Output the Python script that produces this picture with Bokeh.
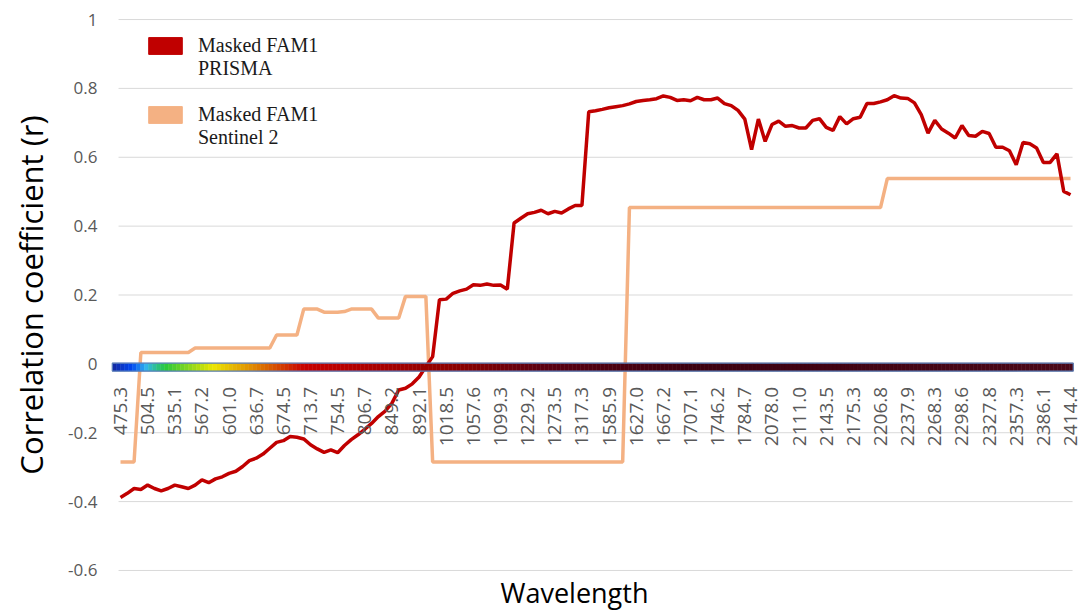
import numpy as np
from bokeh.plotting import figure
from bokeh.models import (Range1d, FixedTicker, NumeralTickFormatter, Legend,
                          LegendItem, Title, ColumnDataSource)
from bokeh.embed import file_html
from bokeh.resources import INLINE

# ---------------- data ----------------
tick_labels = ["475.3", "504.5", "535.1", "567.2", "601.0", "636.7", "674.5", "713.7",
               "754.5", "806.7", "849.2", "892.1", "1018.5", "1057.6", "1099.3", "1229.2",
               "1273.5", "1317.3", "1585.9", "1627.0", "1667.2", "1707.1", "1746.2", "1784.7",
               "2078.0", "2111.0", "2143.5", "2175.3", "2206.8", "2237.9", "2268.3", "2298.6",
               "2327.8", "2357.3", "2386.1", "2414.4"]
label_step = 4  # one wavelength label every 4 bands

prisma = [-0.388, -0.376, -0.362, -0.365, -0.352, -0.362, -0.369, -0.362, -0.352, -0.357,
          -0.362, -0.352, -0.337, -0.345, -0.334, -0.328, -0.318, -0.312, -0.298, -0.281,
          -0.274, -0.262, -0.245, -0.228, -0.223, -0.211, -0.213, -0.218, -0.235, -0.247,
          -0.257, -0.250, -0.258, -0.237, -0.220, -0.206, -0.190, -0.173, -0.153, -0.137,
          -0.114, -0.076, -0.071, -0.058, -0.038, -0.008, 0.021, 0.186, 0.188, 0.205,
          0.212, 0.217, 0.230, 0.228, 0.232, 0.228, 0.229, 0.217, 0.409, 0.423,
          0.436, 0.440, 0.446, 0.436, 0.443, 0.438, 0.450, 0.460, 0.460, 0.732,
          0.735, 0.739, 0.744, 0.747, 0.750, 0.755, 0.762, 0.765, 0.767, 0.770,
          0.778, 0.774, 0.765, 0.767, 0.764, 0.774, 0.767, 0.767, 0.772, 0.756,
          0.750, 0.736, 0.711, 0.622, 0.711, 0.646, 0.695, 0.705, 0.690, 0.692,
          0.685, 0.685, 0.707, 0.712, 0.687, 0.678, 0.718, 0.697, 0.712, 0.716,
          0.756, 0.756, 0.761, 0.767, 0.779, 0.772, 0.771, 0.758, 0.724, 0.670,
          0.707, 0.682, 0.670, 0.656, 0.692, 0.663, 0.661, 0.675, 0.669, 0.629,
          0.629, 0.619, 0.578, 0.643, 0.639, 0.627, 0.585, 0.585, 0.610, 0.501,
          0.491]

sentinel = ([-0.285] * 3 + [0.033] * 8 + [0.046] * 12 + [0.084] * 4 + [0.159] * 3 +
            [0.150] * 3 + [0.152] * 1 + [0.159] * 4 + [0.133] * 4 + [0.196] * 4 +
            [-0.285] * 29 + [0.454] * 38 + [0.538] * 28)

series_names = ["Masked FAM1\nPRISMA", "Masked FAM1\nSentinel 2"]
series_colors = ["#c00000", "#f4b183"]

y_ticks = [-0.6, -0.4, -0.2, 0.0, 0.2, 0.4, 0.6, 0.8, 1.0]

# spectrum colour stops for the bar drawn along y = 0 (fraction along bar, colour)
spectrum_stops = [(0.00, "#1428a0"), (0.02, "#0046f0"), (0.035, "#32b4f0"),
                  (0.055, "#28c83c"), (0.105, "#ebe600"), (0.145, "#e08c00"),
                  (0.20, "#c80000"), (0.30, "#a00000"), (0.36, "#8b0000"),
                  (0.45, "#5a0012"), (0.60, "#3c0010"), (1.00, "#4a0818")]

# ---------------- figure ----------------
x = list(range(len(prisma)))
n = len(x)

p = figure(width=1088, height=610, output_backend="svg", toolbar_location=None,
           x_range=Range1d(-1.474, n - 1 + 1.47), y_range=Range1d(-0.603, 1.003),
           min_border_left=110, min_border_right=8, min_border_top=18,
           min_border_bottom=39)
p.outline_line_color = None
p.xgrid.visible = False
p.ygrid.visible = False
yt = FixedTicker(ticks=y_ticks)
p.yaxis.ticker = yt

# horizontal grid lines spanning the category extent
grid_x0, grid_x1 = -0.29, n - 1 + 0.3
p.segment(x0=grid_x0, x1=grid_x1, y0=y_ticks, y1=y_ticks, line_color="#d9d9d9",
          line_width=1, level="underlay")

# y axis
p.yaxis.formatter = NumeralTickFormatter(format="0.[0]")
p.yaxis.major_tick_line_color = None
p.yaxis.minor_tick_line_color = None
p.yaxis.axis_line_color = None
p.yaxis.major_label_text_font = "Open Sans"
p.yaxis.major_label_text_font_size = "17px"
p.yaxis.major_label_text_color = "#595959"
p.yaxis.major_label_standoff = 7
p.yaxis.axis_label = "Correlation coefficient (r)"
p.yaxis.axis_label_text_font = "Open Sans"
p.yaxis.axis_label_text_font_size = "31px"
p.yaxis.axis_label_text_font_style = "normal"
p.yaxis.axis_label_text_color = "#000000"
p.yaxis.axis_label_standoff = 13

# x axis crossing at y = 0
p.xaxis.fixed_location = 0
p.xaxis.ticker = FixedTicker(ticks=[i * label_step for i in range(len(tick_labels))])
p.xaxis.major_label_overrides = {i * label_step: t for i, t in enumerate(tick_labels)}
p.xaxis.major_label_orientation = np.pi / 2
p.xaxis.major_tick_line_color = None
p.xaxis.minor_tick_line_color = None
p.xaxis.axis_line_color = None
p.xaxis.major_label_standoff = 17
p.xaxis.major_label_text_font = "Open Sans"
p.xaxis.major_label_text_font_size = "19px"
p.xaxis.major_label_text_color = "#595959"

p.add_layout(Title(text="Wavelength", align="left", offset=390, standoff=0,
                   text_font="Open Sans", text_font_size="27px",
                   text_font_style="normal", text_color="#000000"), "below")

src = ColumnDataSource(dict(x=x, prisma=prisma, sentinel=sentinel))
p.line("x", "sentinel", source=src, line_color=series_colors[1], line_width=3.5)
p.line("x", "prisma", source=src, line_color=series_colors[0], line_width=3.5)

# spectrum bar along the zero line
bar_left, bar_right = -1.2, n - 1 + 0.4
bar_top, bar_bottom = 0.002, -0.021
segs = 240
edges = np.linspace(bar_left, bar_right, segs + 1)
fr = np.array([s[0] for s in spectrum_stops])
rgb = np.array([[int(c[i:i + 2], 16) for i in (1, 3, 5)] for _, c in spectrum_stops], float)
mids = (np.arange(segs) + 0.5) / segs
cols = ["#%02x%02x%02x" % tuple(int(round(np.interp(m, fr, rgb[:, k]))) for k in range(3))
        for m in mids]
p.quad(left=edges[:-1], right=edges[1:], top=bar_top, bottom=bar_bottom,
       fill_color=cols, line_color=cols, line_width=0.5)
p.quad(left=[bar_left], right=[bar_right], top=[bar_top], bottom=[bar_bottom],
       fill_color=None, line_color="#5a7fb8", line_width=1.2)

# legend with filled swatches (renderers hold no drawable data); a leading
# empty line keeps each swatch level with the first line of its label
sw = []
for c in series_colors:
    sw.append(p.quad(left=[np.nan], right=[np.nan], top=[np.nan], bottom=[np.nan],
                     fill_color=c, line_color=c))
legend = Legend(items=[LegendItem(label="\n" + series_names[i], renderers=[sw[i]])
                       for i in range(2)],
                location=(34, 422), margin=0, padding=0, spacing=0,
                glyph_width=42, glyph_height=21, label_standoff=12,
                label_text_font="Liberation Serif", label_text_font_size="20px",
                label_text_line_height=1.12,
                label_text_color="#1a1a1a", border_line_color=None,
                background_fill_alpha=0)
p.add_layout(legend)

open("out.html", "w").write(file_html(p, INLINE))
